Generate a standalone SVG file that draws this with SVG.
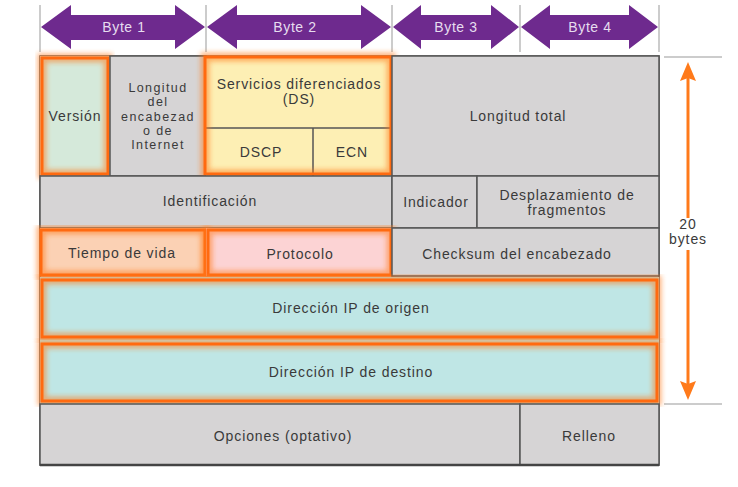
<svg xmlns="http://www.w3.org/2000/svg" width="738" height="487" viewBox="0 0 738 487">
<style>
text{font-family:"Liberation Sans",Arial,sans-serif;font-size:14px;letter-spacing:0.9px;fill:#3a3a3a;text-anchor:middle;dominant-baseline:central}
.sm{font-size:12.5px;letter-spacing:1.4px}
.cell{fill:#d6d4d5;stroke:#555;stroke-width:1.5}
.hl{fill:none;stroke:#ff6a10;stroke-width:3}
.glow{fill:none;stroke:#ff7a1a;stroke-width:9;opacity:0.55;filter:url(#blur)}
.tick{stroke:#999;stroke-width:1}
.arr{fill:#6e2a8e}
.bt{fill:#e6ddef;font-size:14px;letter-spacing:0.6px}
</style>
<defs>
<filter id="blur" x="-10%" y="-10%" width="120%" height="120%"><feGaussianBlur stdDeviation="2.5"/></filter>
</defs>
<rect width="738" height="487" fill="#fff"/>
<g id="bytes">
<line class="tick" x1="40" y1="5" x2="40" y2="52"/>
<line class="tick" x1="206" y1="5" x2="206" y2="52"/>
<line class="tick" x1="392" y1="5" x2="392" y2="52"/>
<line class="tick" x1="520" y1="5" x2="520" y2="52"/>
<line class="tick" x1="659" y1="5" x2="659" y2="52"/>
<g id="byte1"><polygon class="arr" points="41,27 71,5 71,15 175,15 175,5 205,27 175,49 175,40 71,40 71,49"/><text class="bt" x="124" y="27">Byte 1</text></g>
<g id="byte2"><polygon class="arr" points="207,27 237,5 237,15 361,15 361,5 391,27 361,49 361,40 237,40 237,49"/><text class="bt" x="295" y="27">Byte 2</text></g>
<g id="byte3"><polygon class="arr" points="393,27 421,5 421,15 491,15 491,5 519,27 491,49 491,40 421,40 421,49"/><text class="bt" x="456" y="27">Byte 3</text></g>
<g id="byte4"><polygon class="arr" points="521,27 550,5 550,15 629,15 629,5 658,27 629,49 629,40 550,40 550,49"/><text class="bt" x="590" y="27">Byte 4</text></g>
</g>
<g id="size">
<line class="tick" x1="664" y1="57" x2="722" y2="57"/>
<line class="tick" x1="664" y1="404" x2="722" y2="404"/>
<line x1="688" y1="218" x2="688" y2="76" stroke="#ff7a1a" stroke-width="3"/>
<polygon points="688,62 680,81 688,78 696,81" fill="#ff7a1a"/>
<line x1="688" y1="250" x2="688" y2="386" stroke="#ff7a1a" stroke-width="3"/>
<polygon points="688,400 680,381 688,384 696,381" fill="#ff7a1a"/>
<text x="688" y="224">20</text>
<text x="688" y="239">bytes</text>
</g>
<g id="table">
<rect x="40" y="56" width="619" height="409" fill="#d6d4d5" stroke="#555" stroke-width="1.5"/>
<g id="version"><rect x="40" y="56" width="69" height="119" fill="#d5e9da"/><rect class="glow" x="42" y="58" width="66" height="116"/><rect class="hl" x="42" y="58" width="66" height="116"/><text x="75" y="116">Versión</text></g>
<g id="ihl"><rect class="cell" x="110" y="56" width="96" height="120"/><text class="sm" x="158" y="88">Longitud</text><text class="sm" x="158" y="102">del</text><text class="sm" x="158" y="117">encabezad</text><text class="sm" x="158" y="131">o de</text><text class="sm" x="158" y="145">Internet</text></g>
<g id="ds"><rect x="206" y="56" width="186" height="120" fill="#fdefb4"/><line x1="206" y1="128" x2="392" y2="128" stroke="#555" stroke-width="1.5"/><line x1="313" y1="128" x2="313" y2="176" stroke="#555" stroke-width="1.5"/><rect class="glow" x="205" y="57" width="186" height="117"/><rect class="hl" x="205" y="57" width="186" height="117"/><text x="299" y="84">Servicios diferenciados</text><text x="299" y="99">(DS)</text><text x="261" y="152">DSCP</text><text x="352" y="152">ECN</text></g>
<g id="totlen"><rect class="cell" x="392" y="56" width="267" height="120"/><text x="518" y="116">Longitud total</text></g>
<g id="ident"><rect class="cell" x="40" y="176" width="352" height="52"/><text x="210" y="201">Identificación</text></g>
<g id="flags"><rect class="cell" x="392" y="176" width="85" height="52"/><text x="436" y="202">Indicador</text></g>
<g id="frag"><rect class="cell" x="477" y="176" width="182" height="52"/><text x="567" y="195">Desplazamiento de</text><text x="567" y="210">fragmentos</text></g>
<g id="ttl"><rect x="40" y="228" width="166" height="48" fill="#fbd1b4"/><rect class="glow" x="41" y="230" width="164" height="45"/><rect class="hl" x="41" y="230" width="164" height="45"/><text x="122" y="253">Tiempo de vida</text></g>
<g id="proto"><rect x="206" y="228" width="186" height="48" fill="#fcd3d4"/><rect class="glow" x="208" y="230" width="183" height="45"/><rect class="hl" x="208" y="230" width="183" height="45"/><text x="300" y="254">Protocolo</text></g>
<g id="checksum"><rect class="cell" x="392" y="228" width="267" height="48"/><text x="517" y="254">Checksum del encabezado</text></g>
<g id="src"><rect x="40" y="277" width="619" height="63" fill="#bfe6e5"/><rect class="glow" x="42" y="280" width="615" height="57"/><rect class="hl" x="42" y="280" width="615" height="57"/><text x="351" y="308">Dirección IP de origen</text></g>
<g id="dst"><rect x="40" y="340" width="619" height="64" fill="#bfe6e5"/><rect class="glow" x="42" y="344" width="615" height="57"/><rect class="hl" x="42" y="344" width="615" height="57"/><text x="351" y="372">Dirección IP de destino</text></g>
<g id="opts"><rect class="cell" x="40" y="404" width="480" height="61"/><text x="283" y="436">Opciones (optativo)</text></g>
<g id="pad"><rect class="cell" x="520" y="404" width="139" height="61"/><text x="589" y="436">Relleno</text></g>
<line x1="40" y1="465" x2="659" y2="465" stroke="#444" stroke-width="2.5"/>
</g>
</svg>
